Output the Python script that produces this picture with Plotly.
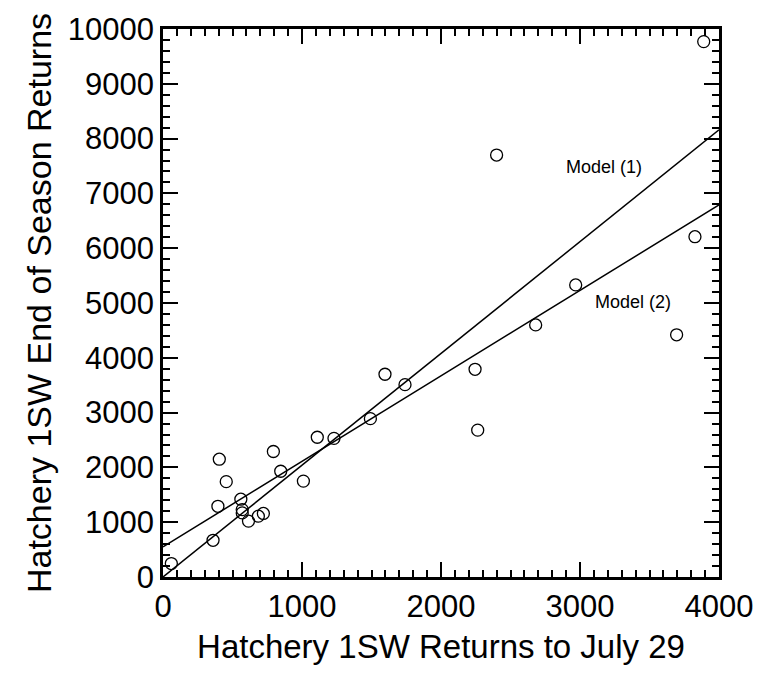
import plotly.graph_objects as go

# Data
returns_july29 = [60, 360, 395, 405, 455, 560, 570, 570, 615, 686, 722, 794, 847, 1010,
                  1110, 1230, 1492, 1597, 1741, 2245, 2264, 2400, 2681, 2969, 3695, 3827, 3890]
end_season = [245, 670, 1290, 2150, 1740, 1420, 1230, 1170, 1020, 1110, 1160, 2290, 1930, 1750,
              2550, 2530, 2890, 3700, 3510, 3790, 2680, 7700, 4600, 5330, 4420, 6210, 9770]

model_names = ["Model (1)", "Model (2)"]
model_intercepts = [0, 550]
model_slopes = [2.04, 1.56]
model_label_x = [3173, 3381]
model_label_y = [7480, 5020]
line_x = [0, 4000]

X_RANGE = [0, 4000]
Y_RANGE = [0, 10000]

FONT = "Liberation Sans, Arial, Helvetica, sans-serif"

fig = go.Figure()
for name, a, b in zip(model_names, model_intercepts, model_slopes):
    fig.add_trace(go.Scatter(x=line_x, y=[a + b * xv for xv in line_x], mode="lines",
                             line=dict(color="black", width=1.5), name=name,
                             showlegend=False, hoverinfo="skip"))

fig.add_trace(go.Scatter(x=returns_july29, y=end_season, mode="markers",
                         marker=dict(symbol="circle-open", size=12, color="black",
                                     line=dict(width=1.3, color="black")),
                         showlegend=False, cliponaxis=False))

# invisible trace to anchor the mirrored tick axes (top / right)
fig.add_trace(go.Scatter(x=X_RANGE, y=Y_RANGE, xaxis="x2", yaxis="y2", mode="markers",
                         marker=dict(opacity=0), showlegend=False, hoverinfo="skip"))

for name, lx, ly in zip(model_names, model_label_x, model_label_y):
    fig.add_annotation(x=lx, y=ly, text=name, showarrow=False,
                       font=dict(family=FONT, size=18, color="black"))

tick_common = dict(ticks="inside", ticklen=15, tickwidth=2, tickcolor="black",
                   showgrid=False, zeroline=False)

fig.update_layout(
    xaxis=dict(range=X_RANGE, dtick=1000, tick0=0, tickformat="d",
               showline=True, linecolor="black", linewidth=2.5, mirror=True,
               minor=dict(dtick=100, ticklen=7, tickwidth=1.5, ticks="inside", tickcolor="black"),
               tickfont=dict(family=FONT, size=31, color="black"),
               title=dict(text="Hatchery 1SW Returns to July 29", standoff=12,
                          font=dict(family=FONT, size=33, color="black")),
               **tick_common),
    yaxis=dict(range=Y_RANGE, dtick=1000, tick0=0, tickformat="d",
               showline=True, linecolor="black", linewidth=2.5, mirror=True,
               minor=dict(dtick=200, ticklen=7, tickwidth=1.5, ticks="inside", tickcolor="black"),
               tickfont=dict(family=FONT, size=31, color="black"),
               title=dict(text="Hatchery 1SW End of Season Returns", standoff=6,
                          font=dict(family=FONT, size=34, color="black")),
               **tick_common),
    xaxis2=dict(range=X_RANGE, dtick=1000, tick0=0, overlaying="x", side="top",
                anchor="y", showticklabels=False, showline=False,
                minor=dict(dtick=100, ticklen=7, tickwidth=1.5, ticks="inside", tickcolor="black"),
                **tick_common),
    yaxis2=dict(range=Y_RANGE, dtick=1000, tick0=0, overlaying="y", side="right",
                anchor="x", showticklabels=False, showline=False,
                minor=dict(dtick=200, ticklen=7, tickwidth=1.5, ticks="inside", tickcolor="black"),
                **tick_common),
    width=768, height=673, plot_bgcolor="white", paper_bgcolor="white",
    margin=dict(l=163, r=49, t=22, b=96), showlegend=False,
)

fig.write_html("out.html")
